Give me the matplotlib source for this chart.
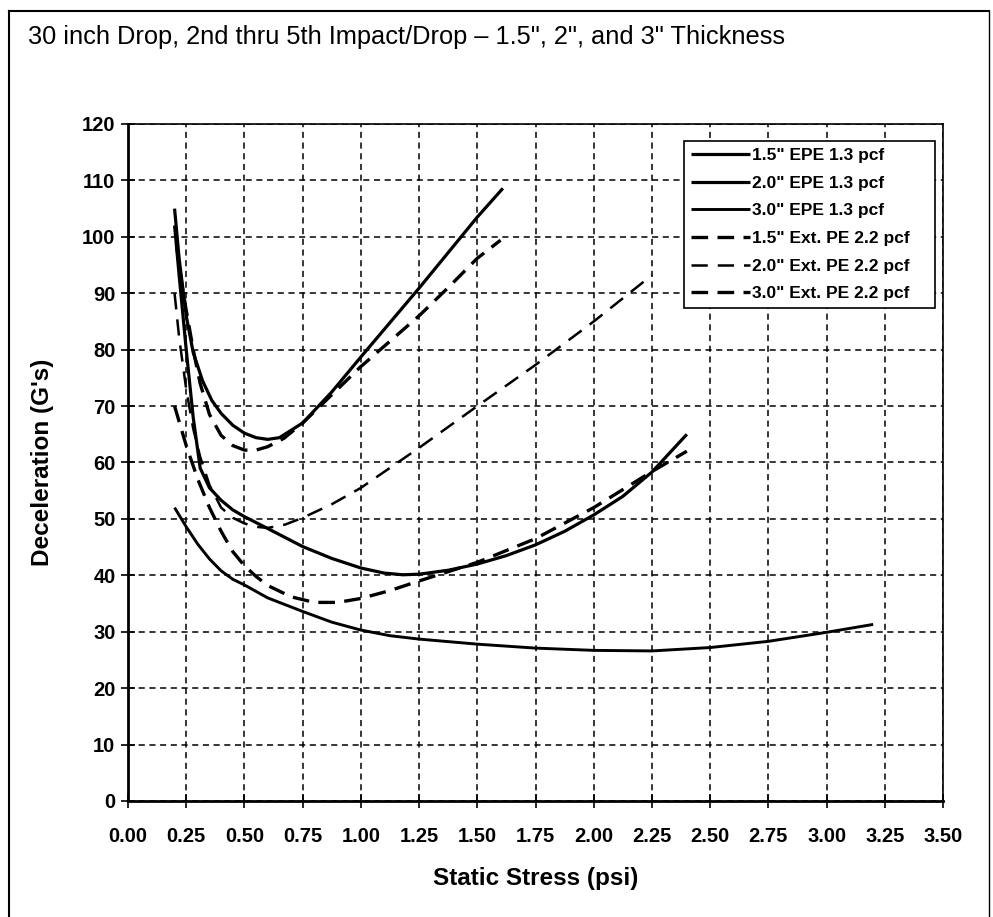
import matplotlib
matplotlib.use('Agg')
import matplotlib.pyplot as plt
from matplotlib import font_manager as fm
from matplotlib.lines import Line2D

# ---------------- data ----------------
title = "30 inch Drop, 2nd thru 5th Impact/Drop \u2013 1.5\", 2\", and 3\" Thickness"
xlabel = "Static Stress (psi)"
ylabel = "Deceleration (G's)"
xticks = [0.00, 0.25, 0.50, 0.75, 1.00, 1.25, 1.50, 1.75, 2.00, 2.25, 2.50, 2.75, 3.00, 3.25, 3.50]
yticks = [0, 10, 20, 30, 40, 50, 60, 70, 80, 90, 100, 110, 120]

names = ['1.5" EPE 1.3 pcf', '2.0" EPE 1.3 pcf', '3.0" EPE 1.3 pcf',
         '1.5" Ext. PE 2.2 pcf', '2.0" Ext. PE 2.2 pcf', '3.0" Ext. PE 2.2 pcf']

epe15_x = [0.20, 0.22, 0.25, 0.28, 0.32, 0.36, 0.40, 0.45, 0.50, 0.55, 0.60, 0.65, 0.75, 0.875, 1.00, 1.125, 1.25, 1.375, 1.50, 1.61]
epe15_y = [105, 96, 86, 79.5, 74.5, 71, 68.7, 66.6, 65.2, 64.4, 64.1, 64.4, 67.0, 72.5, 78.7, 84.8, 90.9, 97.2, 103.5, 108.6]

epe20_x = [0.20, 0.22, 0.25, 0.28, 0.31, 0.35, 0.40, 0.45, 0.50, 0.60, 0.75, 0.875, 1.00, 1.10, 1.18, 1.25, 1.375, 1.50, 1.625, 1.75, 1.875, 2.00, 2.125, 2.25, 2.40]
epe20_y = [102, 93, 80, 68, 59, 55.5, 53.3, 51.6, 50.4, 48.3, 45.1, 43.0, 41.3, 40.4, 40.1, 40.2, 40.9, 42.0, 43.5, 45.4, 47.8, 50.7, 54.0, 58.3, 65.0]

epe30_x = [0.20, 0.25, 0.30, 0.35, 0.40, 0.45, 0.50, 0.60, 0.75, 0.875, 1.00, 1.125, 1.25, 1.50, 1.75, 2.00, 2.25, 2.50, 2.75, 3.00, 3.20]
epe30_y = [52, 48.6, 45.5, 42.9, 40.8, 39.3, 38.3, 36.0, 33.6, 31.7, 30.3, 29.3, 28.7, 27.8, 27.1, 26.7, 26.6, 27.2, 28.3, 29.9, 31.3]

ext15_x = [0.21, 0.23, 0.25, 0.28, 0.31, 0.35, 0.40, 0.45, 0.50, 0.55, 0.60, 0.67, 0.75, 0.875, 1.00, 1.125, 1.25, 1.375, 1.50, 1.60]
ext15_y = [98, 92, 87, 80, 74, 68.5, 64.8, 63.0, 62.2, 62.2, 62.8, 64.3, 67.0, 72.0, 77.0, 81.5, 86.0, 91.0, 96.2, 99.4]

ext20_x = [0.20, 0.22, 0.25, 0.28, 0.31, 0.35, 0.40, 0.45, 0.50, 0.55, 0.60, 0.675, 0.75, 0.875, 1.00, 1.25, 1.50, 1.75, 2.00, 2.25]
ext20_y = [90, 82, 73, 66, 61, 56, 52, 50.2, 49.2, 48.6, 48.4, 49.0, 50.2, 52.6, 55.5, 62.6, 70.0, 77.3, 85.0, 93.2]

ext30_x = [0.20, 0.25, 0.30, 0.35, 0.40, 0.45, 0.50, 0.55, 0.60, 0.70, 0.80, 0.90, 1.00, 1.125, 1.25, 1.50, 1.75, 2.00, 2.25, 2.40]
ext30_y = [70, 63, 57, 52, 47.8, 44.2, 41.7, 39.8, 38.2, 36.2, 35.2, 35.2, 35.9, 37.3, 39.0, 42.3, 46.5, 52.0, 58.4, 62.0]

series_x = [epe15_x, epe20_x, epe30_x, ext15_x, ext20_x, ext30_x]
series_y = [epe15_y, epe20_y, epe30_y, ext15_y, ext20_y, ext30_y]

# ---------------- styling ----------------
FAM = ['Liberation Sans', 'DejaVu Sans']
tick_fp = dict(family=FAM, weight='bold', size=14.5)
leg_fp = fm.FontProperties(family=FAM, weight='bold', size=12.5)
title_fp = dict(family=FAM, size=18.3)
label_fp = dict(family=FAM, weight='bold', size=17.5)

W, H = 993, 917
fig = plt.figure(figsize=(W / 100, H / 100), dpi=100)
fig.patch.set_facecolor('white')

x0, x1, ytop, ybot = 128, 943, 124, 801
ax = fig.add_axes([x0 / W, 1 - ybot / H, (x1 - x0) / W, (ybot - ytop) / H])

styles = [
    dict(color='black', lw=2.3, ls='-'),
    dict(color='black', lw=2.3, ls='-'),
    dict(color='black', lw=2.1, ls='-'),
    dict(color='black', lw=2.4, ls=(0, (5, 2.8))),
    dict(color='black', lw=1.8, ls=(0, (6.5, 4))),
    dict(color='black', lw=2.4, ls=(0, (5, 2.8))),
]

handles = []
for xs, ys, nm, st in zip(series_x, series_y, names, styles):
    h, = ax.plot(xs, ys, label=nm, solid_capstyle='butt', dash_capstyle='butt', **st)
    handles.append(h)

ax.set_xlim(0, 3.5)
ax.set_ylim(0, 120)
ax.set_xticks(xticks)
ax.set_yticks(yticks)
ax.set_xticklabels([f"{v:.2f}" for v in xticks], **tick_fp)
ax.set_yticklabels([str(v) for v in yticks], **tick_fp)
ax.tick_params(axis='both', direction='inout', length=10, width=1.2, colors='black')
ax.tick_params(axis='x', pad=14)
ax.tick_params(axis='y', pad=4)

ax.grid(True, color='black', lw=1.1, ls=(0, (4, 3)))
ax.set_axisbelow(True)
for s in ['left', 'bottom']:
    ax.spines[s].set_linewidth(2.0)
for s in ['top', 'right']:
    ax.spines[s].set_linewidth(1.2)

ax.set_xlabel(xlabel, labelpad=15, **label_fp)
ax.set_ylabel(ylabel, labelpad=20, **label_fp)

lg_l = (684 - x0) / (x1 - x0)
lg_r = (935 - x0) / (x1 - x0)
lg_t = (ybot - 141) / (ybot - ytop)
leg = ax.legend(handles=handles, loc='upper left', bbox_to_anchor=(lg_l, 0.0, lg_r - lg_l, lg_t),
                mode='expand', borderaxespad=0, prop=leg_fp, frameon=True, fancybox=False,
                edgecolor='black', framealpha=1, handlelength=3.4, handletextpad=0.1,
                labelspacing=0.72, borderpad=0.4)
leg.get_frame().set_linewidth(1.2)

fig.text(28 / W, 1 - 37 / H, title, ha='left', va='center', **title_fp)

# outer frame of the picture
fl, ft, fr = 9 / W, 1 - 11 / H, 989 / W
fig.add_artist(Line2D([fl, fl], [0, ft], transform=fig.transFigure, color='black', lw=1.5))
fig.add_artist(Line2D([fl, fr], [ft, ft], transform=fig.transFigure, color='black', lw=1.5))
fig.add_artist(Line2D([fr, fr], [0, ft], transform=fig.transFigure, color='black', lw=1.0))

fig.savefig('out.png', dpi=100, facecolor='white')
